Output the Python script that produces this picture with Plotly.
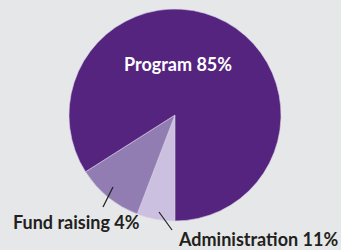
import plotly.graph_objects as go

# Slice sizes as drawn (clockwise from 6 o'clock), and their printed labels
categories = ["Administration", "Fund raising", "Program"]
slice_values = [5.8, 10.2, 84.0]
label_texts = ["Administration 11%", "Fund raising 4%", "Program 85%"]
colors = ["#CBC0DF", "#927DB3", "#54247F"]

W, H = 341, 250
cx, cy, r = 175, 115, 106

fig = go.Figure(go.Pie(
    labels=categories,
    values=slice_values,
    sort=False,
    direction="clockwise",
    rotation=180,
    textinfo="none",
    hoverinfo="label",
    marker=dict(colors=colors, line=dict(color="#D8D0E6", width=0.6)),
    domain=dict(x=[(cx - r) / W, (cx + r) / W], y=[(H - cy - r) / H, (H - cy + r) / H]),
    showlegend=False,
))

font = "Lato, 'Open Sans', sans-serif"
for text, x, y, col in [
    (label_texts[2], 178, 64, "white"),
    (label_texts[1], 76, 222, "#231F20"),
    (label_texts[0], 258, 239, "#231F20"),
]:
    fig.add_annotation(x=x / W, y=1 - y / H, xref="paper", yref="paper",
                       xanchor="center", yanchor="middle",
                       text="<b>" + text + "</b>", showarrow=False,
                       font=dict(family=font, size=18, color=col))

fig.add_shape(type="line", xref="paper", yref="paper",
              x0=113 / W, y0=1 - 187 / H, x1=103 / W, y1=1 - 207 / H,
              line=dict(color="#231F20", width=1.2))
fig.add_shape(type="line", xref="paper", yref="paper",
              x0=159 / W, y0=1 - 212 / H, x1=172 / W, y1=1 - 230 / H,
              line=dict(color="#231F20", width=1.2))

fig.update_layout(
    width=W, height=H,
    margin=dict(l=0, r=0, t=0, b=0),
    paper_bgcolor="#E6E7E8",
    plot_bgcolor="#E6E7E8",
)

fig.write_html(
    "out.html",
    config={"displayModeBar": False},
    post_script="document.body.style.margin='0';document.body.style.background='#E6E7E8';document.body.style.overflow='hidden';",
)
